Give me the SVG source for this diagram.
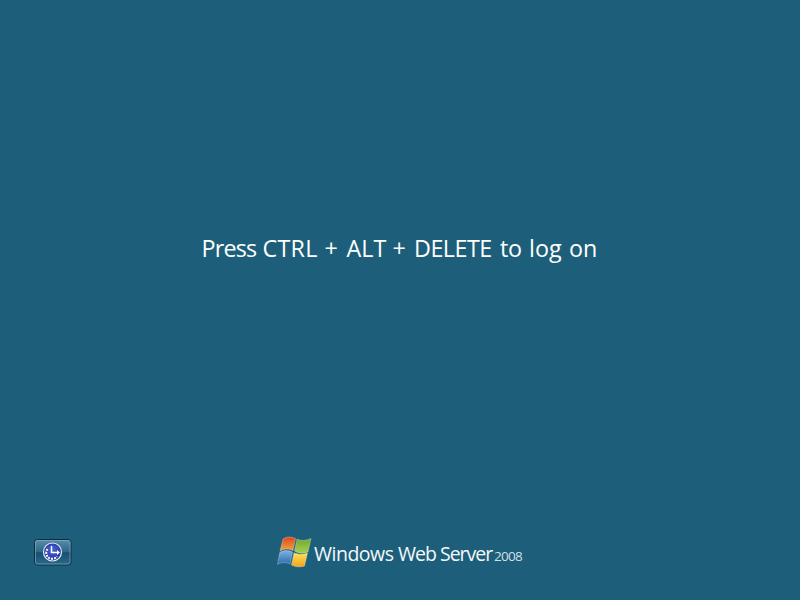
<svg xmlns="http://www.w3.org/2000/svg" width="800" height="600" viewBox="0 0 800 600">
<defs>
<style>
.brand{font-family:"Open Sans","Noto Sans","Liberation Sans",sans-serif;fill:#f4f8fa}
</style>
<linearGradient id="btn" x1="0" y1="0" x2="0" y2="1">
<stop offset="0" stop-color="#5a8dab"/><stop offset="0.48" stop-color="#2f6787"/><stop offset="0.52" stop-color="#164f70"/><stop offset="1" stop-color="#2a6a8c"/>
</linearGradient>
<radialGradient id="disc" cx="0.5" cy="0.4" r="0.6">
<stop offset="0" stop-color="#4a68d8"/><stop offset="1" stop-color="#1c2f9a"/>
</radialGradient>
<linearGradient id="red" x1="0" y1="0" x2="0" y2="1"><stop offset="0" stop-color="#e0471f"/><stop offset="1" stop-color="#f2a63e"/></linearGradient>
<linearGradient id="green" x1="0" y1="0" x2="0" y2="1"><stop offset="0" stop-color="#6fa82f"/><stop offset="1" stop-color="#aacf4d"/></linearGradient>
<linearGradient id="blue" x1="0" y1="0" x2="0" y2="1"><stop offset="0" stop-color="#7fb2e2"/><stop offset="1" stop-color="#2a68b0"/></linearGradient>
<linearGradient id="yellow" x1="0" y1="0" x2="0" y2="1"><stop offset="0" stop-color="#fde05a"/><stop offset="1" stop-color="#f3a518"/></linearGradient>
</defs>
<rect id="background" width="800" height="600" fill="#1d5f7a"/>
<g id="prompt">
<text y="257" font-family="'Open Sans','Noto Sans',sans-serif" font-size="23.300" fill="#ffffff"><tspan x="201.500" letter-spacing="-0.800">Press</tspan> <tspan x="262.500" letter-spacing="0.300">CTRL</tspan> <tspan x="324.500">+</tspan> <tspan x="346.500">ALT</tspan> <tspan x="392.500">+</tspan> <tspan x="414" letter-spacing="-0.500">DELETE</tspan> <tspan x="500" letter-spacing="-0.300">to</tspan> <tspan x="529">log</tspan> <tspan x="569">on</tspan></text>
</g>
<g id="ease-of-access">
<rect x="34.500" y="539.500" width="36.500" height="25.500" rx="3" fill="url(#btn)" stroke="#0e2c40" stroke-width="1"/>
<rect x="35.500" y="540.500" width="34.500" height="23.500" rx="2" fill="none" stroke="#8db2c7" stroke-opacity="0.6" stroke-width="1"/>
<circle cx="52.500" cy="552" r="9" fill="url(#disc)" stroke="#e4e8f4" stroke-width="1.200"/>
<path d="M51.500 546v6.500h6" fill="none" stroke="#ffffff" stroke-width="1.500"/>
<path d="M60 552.500l-3-2.500v5z" fill="#ffffff"/>
<path d="M47.500 549a6 6 0 1 0 9.500 7.500" fill="none" stroke="#ffffff" stroke-width="2" stroke-dasharray="2 1"/>
</g>
<g id="windows-logo">
<g id="flag" stroke="#ffffff" stroke-opacity="0.35" stroke-width="0.800">
<path d="M283 539C287 536.500 291 536.500 295.500 538.500L293 550.500C288.500 548.500 284.500 548.500 280 551Z" fill="url(#red)"/>
<path d="M297 539C301 541 305.500 541 311 538.500L308 552C303 554 298.500 553.500 294.500 551Z" fill="url(#green)"/>
<path d="M279.800 552.500C284 550 288 550 292.500 552L290 564C285.500 562 281.500 562 277.500 564.500Z" fill="url(#blue)"/>
<path d="M294 552.800C298 554.500 302.500 555 307.500 553L304.500 566C300 567.500 295.500 567 291.500 565Z" fill="url(#yellow)"/>
</g>
<text class="brand" y="561" font-size="19.500"><tspan x="314" letter-spacing="-0.500">Windows</tspan> <tspan x="398" letter-spacing="-1">Web Server</tspan> <tspan x="494" font-size="13.500" letter-spacing="-0.700" fill-opacity="0.85">2008</tspan></text>
</g>
</svg>
